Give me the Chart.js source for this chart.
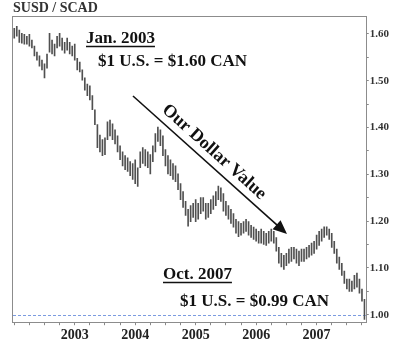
<!DOCTYPE html>
<html>
<head>
<meta charset="utf-8">
<script src="https://cdn.jsdelivr.net/npm/chart.js@4.4.1/dist/chart.umd.min.js"></script>
<style>
  body { margin: 0; background: #fff; }
  canvas { display: block; }
</style>
</head>
<body>
<canvas id="fx" width="400" height="352"></canvas>
<script>
// USD/CAD half-month high-low ranges, Jan 2002 .. Oct 2007
const years = ['2002', '2003', '2004', '2005', '2006', '2007'];
const monthNames = ['Jan', 'Feb', 'Mar', 'Apr', 'May', 'Jun', 'Jul', 'Aug', 'Sep', 'Oct', 'Nov', 'Dec'];
const yearLabels = ['2003', '2004', '2005', '2006', '2007'];
const yTicks = [1.00, 1.05, 1.10, 1.15, 1.20, 1.25, 1.30, 1.35, 1.40, 1.45, 1.50, 1.55, 1.60];
const parity = 1.00;

const lows = [
  1.591, 1.595, 1.582, 1.580, 1.578, 1.578, 1.574, 1.570, 1.553, 1.544,
  1.531, 1.523, 1.506, 1.527, 1.561, 1.557, 1.553, 1.570, 1.574, 1.565,
  1.559, 1.565, 1.557, 1.553, 1.544, 1.523, 1.519, 1.501, 1.480, 1.468,
  1.459, 1.438, 1.406, 1.357, 1.348, 1.340, 1.342, 1.374, 1.382, 1.374,
  1.365, 1.348, 1.331, 1.318, 1.310, 1.306, 1.297, 1.289, 1.280, 1.274,
  1.314, 1.323, 1.318, 1.314, 1.301, 1.327, 1.348, 1.370, 1.361, 1.340,
  1.318, 1.301, 1.297, 1.289, 1.284, 1.267, 1.246, 1.229, 1.212, 1.189,
  1.199, 1.208, 1.199, 1.204, 1.216, 1.221, 1.204, 1.208, 1.216, 1.225,
  1.233, 1.246, 1.242, 1.221, 1.212, 1.204, 1.195, 1.187, 1.174, 1.167,
  1.170, 1.174, 1.178, 1.170, 1.165, 1.161, 1.157, 1.153, 1.153, 1.150,
  1.148, 1.153, 1.157, 1.153, 1.136, 1.110, 1.102, 1.097, 1.105, 1.110,
  1.114, 1.119, 1.110, 1.105, 1.114, 1.114, 1.119, 1.123, 1.127, 1.131,
  1.140, 1.148, 1.157, 1.165, 1.170, 1.161, 1.144, 1.131, 1.110, 1.097,
  1.084, 1.067, 1.055, 1.050, 1.050, 1.055, 1.059, 1.046, 1.029, 0.990
];
const highs = [
  1.612, 1.616, 1.608, 1.601, 1.599, 1.595, 1.599, 1.587, 1.574, 1.561,
  1.553, 1.544, 1.536, 1.557, 1.601, 1.587, 1.578, 1.595, 1.601, 1.591,
  1.582, 1.591, 1.582, 1.574, 1.578, 1.548, 1.540, 1.523, 1.506, 1.493,
  1.489, 1.468, 1.438, 1.406, 1.384, 1.374, 1.378, 1.412, 1.416, 1.408,
  1.395, 1.382, 1.361, 1.348, 1.340, 1.335, 1.327, 1.323, 1.331, 1.314,
  1.348, 1.357, 1.353, 1.348, 1.342, 1.361, 1.387, 1.401, 1.395, 1.382,
  1.353, 1.340, 1.331, 1.323, 1.318, 1.301, 1.280, 1.263, 1.242, 1.225,
  1.233, 1.238, 1.246, 1.238, 1.250, 1.250, 1.238, 1.238, 1.246, 1.254,
  1.263, 1.275, 1.271, 1.259, 1.242, 1.233, 1.225, 1.216, 1.204, 1.199,
  1.195, 1.199, 1.204, 1.199, 1.191, 1.187, 1.183, 1.178, 1.183, 1.178,
  1.174, 1.178, 1.183, 1.178, 1.165, 1.144, 1.131, 1.127, 1.131, 1.140,
  1.144, 1.144, 1.140, 1.136, 1.140, 1.140, 1.144, 1.148, 1.153, 1.157,
  1.170, 1.178, 1.183, 1.188, 1.188, 1.183, 1.174, 1.157, 1.140, 1.123,
  1.110, 1.093, 1.076, 1.076, 1.072, 1.084, 1.089, 1.076, 1.055, 1.033
];

// category labels, two per month
let periods = [];
for (const y of years) {
  for (let m = 0; m < 12; m++) {
    if (y === '2007' && m > 9) break;
    periods.push(monthNames[m] + ' ' + y + ' a', monthNames[m] + ' ' + y + ' b');
  }
}

const serif = '"Liberation Serif", "Times New Roman", serif';

// frame, parity line, notes and arrow
const decor = {
  id: 'decor',
  beforeDatasetsDraw(chart) {
    const { ctx, chartArea: a, scales } = chart;
    const yp = Math.round(scales.y.getPixelForValue(parity)) + 0.5;
    ctx.save();
    ctx.strokeStyle = '#7b9be0';
    ctx.lineWidth = 1;
    ctx.setLineDash([3, 2]);
    ctx.beginPath();
    ctx.moveTo(a.left, yp);
    ctx.lineTo(a.right, yp);
    ctx.stroke();
    ctx.restore();
  },
  afterDraw(chart) {
    const { ctx, chartArea: a } = chart;
    ctx.save();
    ctx.strokeStyle = '#8c8c8c';
    ctx.lineWidth = 1;
    ctx.strokeRect(Math.round(a.left) - 0.5, Math.round(a.top) + 0.5,
                   Math.round(a.right - a.left) + 1, Math.round(a.bottom - a.top));

    ctx.fillStyle = '#111';
    ctx.strokeStyle = '#111';
    ctx.font = 'bold 17px ' + serif;
    ctx.textBaseline = 'alphabetic';
    ctx.textAlign = 'left';

    const underlined = (txt, x, y) => {
      ctx.fillText(txt, x, y);
      const w = ctx.measureText(txt).width;
      ctx.lineWidth = 1.5;
      ctx.beginPath();
      ctx.moveTo(x, y + 3.5);
      ctx.lineTo(x + w, y + 3.5);
      ctx.stroke();
    };
    underlined('Jan. 2003', 86, 43);
    ctx.fillText('$1 U.S. = $1.60 CAN', 98, 66);
    underlined('Oct. 2007', 163, 279);
    ctx.fillText('$1 U.S. = $0.99 CAN', 180, 306);

    // arrow
    const x0 = 133, y0 = 96, x1 = 287, y1 = 234;
    const ang = Math.atan2(y1 - y0, x1 - x0);
    ctx.lineWidth = 1.6;
    ctx.beginPath();
    ctx.moveTo(x0, y0);
    ctx.lineTo(x1 - 8 * Math.cos(ang), y1 - 8 * Math.sin(ang));
    ctx.stroke();
    ctx.save();
    ctx.translate(x1, y1);
    ctx.rotate(ang);
    ctx.beginPath();
    ctx.moveTo(0, 0);
    ctx.lineTo(-14, -6);
    ctx.lineTo(-14, 6);
    ctx.closePath();
    ctx.fill();
    ctx.restore();

    ctx.save();
    ctx.translate(214, 152);
    ctx.rotate(ang);
    ctx.font = 'bold 18px ' + serif;
    ctx.textAlign = 'center';
    ctx.textBaseline = 'middle';
    ctx.fillText('Our Dollar Value', 0, 0);
    ctx.restore();

    ctx.restore();
  }
};

new Chart(document.getElementById('fx'), {
  type: 'bar',
  data: {
    labels: periods,
    datasets: [{
      data: lows.map((l, i) => [l, highs[i]]),
      backgroundColor: '#505050',
      borderWidth: 0,
      barThickness: 1
    }]
  },
  options: {
    responsive: false,
    animation: false,
    devicePixelRatio: 1,
    layout: { padding: { left: 13, right: 10, top: 0, bottom: 6 } },
    plugins: {
      legend: { display: false },
      tooltip: { enabled: false },
      title: {
        display: true,
        text: 'SUSD / SCAD',
        align: 'start',
        color: '#333',
        font: { family: serif, size: 14, weight: 'bold', lineHeight: 1.15 },
        padding: { top: 0, bottom: 0 }
      }
    },
    scales: {
      x: {
        type: 'category',
        offset: true,
        border: { display: false },
        grid: {
          offset: false,
          drawOnChartArea: false,
          drawTicks: true,
          tickLength: 3,
          color: (c) => (c.index % 6 === 0 ? '#888' : 'rgba(0,0,0,0)')
        },
        ticks: {
          autoSkip: false,
          maxRotation: 0,
          minRotation: 0,
          padding: 2,
          color: '#222',
          font: { family: serif, size: 14, weight: 'bold' },
          callback: (v, i) => {
            const p = periods[i].split(' ');
            return (p[0] === 'Jan' && p[2] === 'a' && yearLabels.includes(p[1])) ? p[1] : '';
          }
        }
      },
      y: {
        position: 'right',
        min: 0.984,
        max: 1.638,
        border: { display: false },
        afterBuildTicks: (s) => { s.ticks = yTicks.map(v => ({ value: v })); },
        grid: {
          drawOnChartArea: false,
          drawTicks: true,
          tickLength: 3,
          color: '#888'
        },
        ticks: {
          padding: 1,
          color: '#333',
          font: { family: serif, size: 11, weight: 'bold' },
          callback: (v) => (Math.abs(v * 10 - Math.round(v * 10)) < 1e-6 ? v.toFixed(2) : '')
        }
      }
    }
  },
  plugins: [decor]
});
</script>
</body>
</html>
